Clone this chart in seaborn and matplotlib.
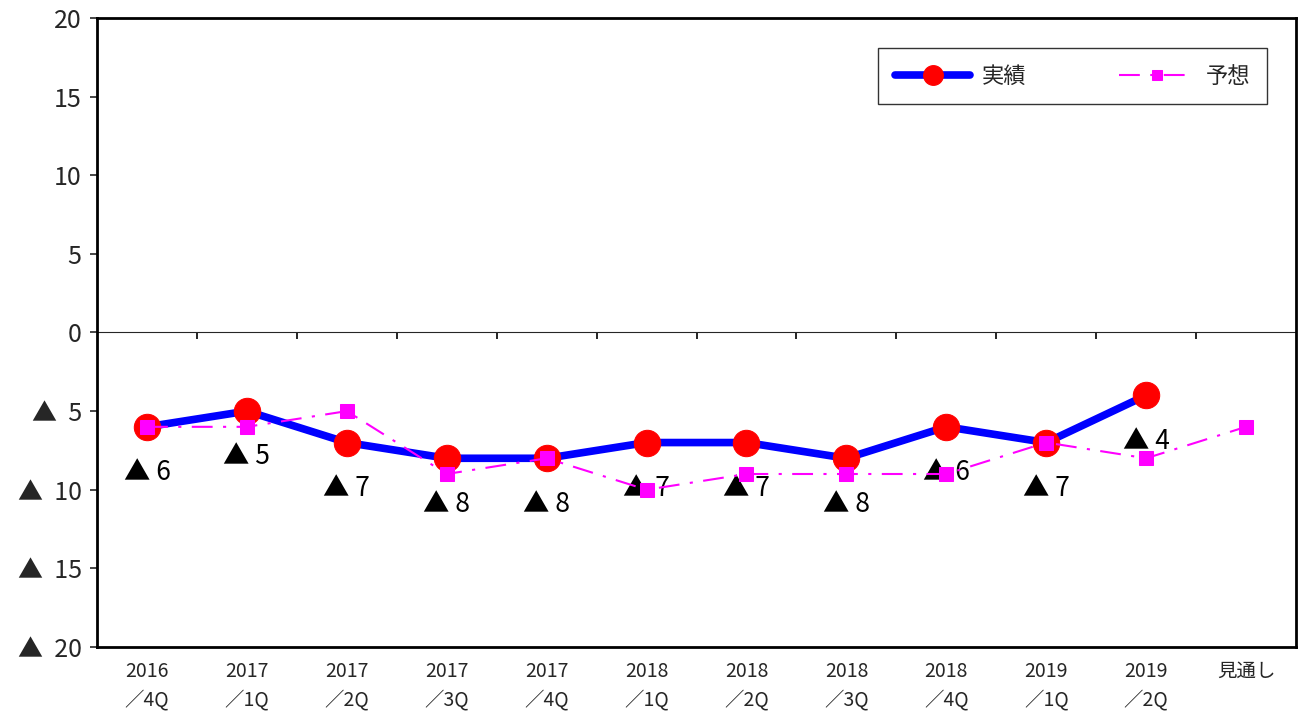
import matplotlib
matplotlib.use('Agg')
import matplotlib.pyplot as plt
import seaborn as sns
import numpy as np
import pandas as pd

# data
categories = ['2016\n／4Q', '2017\n／1Q', '2017\n／2Q', '2017\n／3Q', '2017\n／4Q', '2018\n／1Q',
              '2018\n／2Q', '2018\n／3Q', '2018\n／4Q', '2019\n／1Q', '2019\n／2Q', '見通し']
actual = [-6, -5, -7, -8, -8, -7, -7, -8, -6, -7, -4]
forecast = [-6, -6, -5, -9, -8, -10, -9, -9, -9, -7, -8, -6]
y_ticks = [20, 15, 10, 5, 0, -5, -10, -15, -20]

sns.set_style('white')
plt.rcParams['font.family'] = ['Noto Sans CJK JP', 'DejaVu Sans']

df_act = pd.DataFrame({'x': np.arange(len(actual)), 'v': actual})
df_fc = pd.DataFrame({'x': np.arange(len(forecast)), 'v': forecast})

fig = plt.figure(figsize=(12.99, 7.13), dpi=100)
ax = fig.add_axes([0.0747, 0.0926, 0.923, 0.8822])

sns.lineplot(data=df_act, x='x', y='v', ax=ax, color='#0000FF', linewidth=5.5,
             marker='o', markersize=19, markerfacecolor='#FF0000', markeredgecolor='#FF0000',
             label='実績', zorder=3)
sns.lineplot(data=df_fc, x='x', y='v', ax=ax, color='#FF00FF', linewidth=1.5,
             linestyle=(0, (10, 5, 1.5, 5)), marker='s', markersize=10,
             markerfacecolor='#FF00FF', markeredgecolor='#FF00FF', label='予想', zorder=4)

# data labels
for i, v in enumerate(actual):
    ax.annotate('▲ %d' % abs(v), (i, v), xytext=(0, -33), textcoords='offset points',
                ha='center', va='center', fontsize=19, color='black')

ax.set_xlim(-0.5, len(categories) - 0.5)
ax.set_ylim(-20, 20)
ax.set_xticks(np.arange(len(categories)))
ax.set_xticklabels(categories, fontsize=14, linespacing=1.45)
ax.set_yticks(y_ticks)
ax.set_yticklabels([str(t) if t >= 0 else '▲  %d' % abs(t) for t in y_ticks], fontsize=18)
ax.tick_params(axis='x', length=0, pad=10)
ax.tick_params(axis='y', direction='out', length=5, width=1.2, left=True, pad=6)
ax.set_xlabel('')
ax.set_ylabel('')

for s in ax.spines.values():
    s.set_color('black')
    s.set_linewidth(2)

# zero line with category boundary ticks
zero = ax.secondary_xaxis(0.5)
zero.spines['bottom'].set_color('gray')
zero.spines['bottom'].set_linewidth(1.5)
zero.set_xticks(np.arange(len(categories) - 1) + 0.5)
zero.set_xticklabels([])
zero.tick_params(direction='in', length=5, width=1.2, color='black')

leg = ax.legend(ncol=2, loc='upper right', bbox_to_anchor=(0.976, 0.952), fontsize=16,
                frameon=True, fancybox=False, edgecolor='black', handlelength=3.4,
                columnspacing=4.2, handletextpad=0.5, borderpad=0.75, borderaxespad=0,
                markerscale=0.75)
leg.get_frame().set_linewidth(1.0)

fig.savefig('out.png', dpi=100)
